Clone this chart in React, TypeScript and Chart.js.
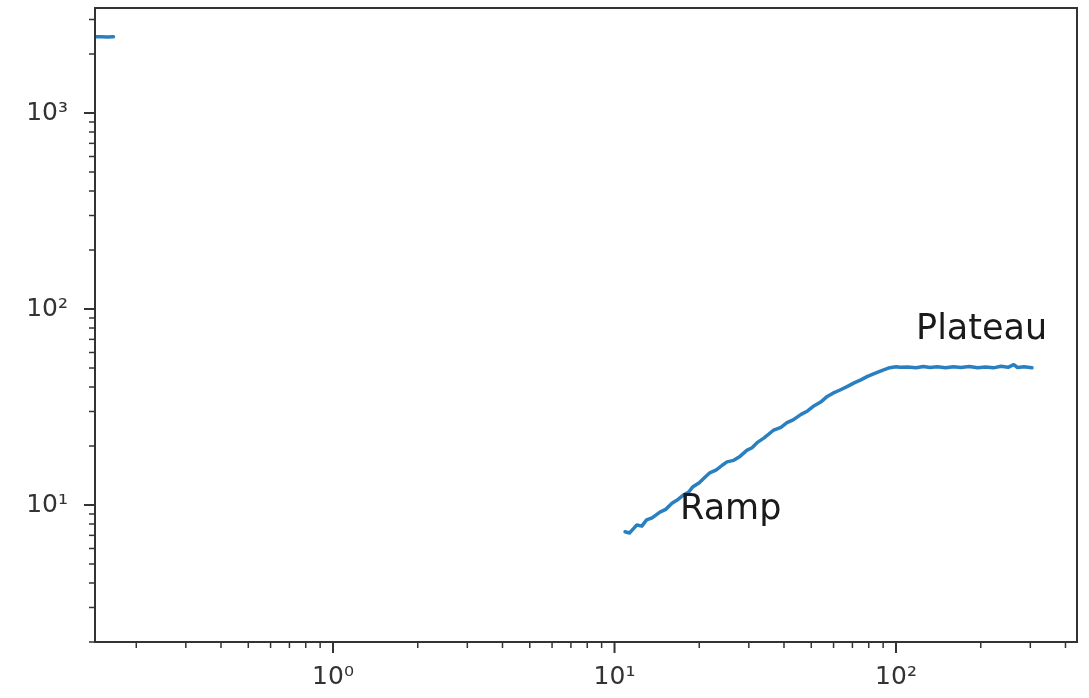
import React, { useEffect, useRef } from 'react';
import { Chart, registerables } from 'chart.js';

Chart.register(...registerables);

// ---- data ----
const headX = [0.1427, 0.150, 0.158, 0.166];
const headY = [2450, 2452, 2446, 2450];

const rampX = [10.9, 11.3, 11.7, 12.0, 12.5, 13.0, 13.6, 14.5, 15.2, 16.0, 16.7, 17.5, 18.3, 19.0, 20.0, 21.0, 21.8, 23.0, 24.2, 25.1, 26.5, 27.9, 29.5, 30.8, 32.1, 34.0, 36.6, 39.0, 41.0, 43.1, 46.0, 48.5, 50.7, 54.0, 57.0, 59.7, 63.0, 67.0, 71.0, 75.0, 78.9, 84.0, 89.9, 95.0, 100.0, 103.3];
const rampY = [7.3, 7.2, 7.6, 7.9, 7.8, 8.4, 8.6, 9.2, 9.5, 10.2, 10.6, 11.2, 11.6, 12.4, 13.0, 13.9, 14.6, 15.1, 16.0, 16.6, 16.9, 17.7, 19.0, 19.6, 20.8, 22.0, 24.0, 24.9, 26.3, 27.2, 29.0, 30.2, 31.8, 33.5, 35.8, 37.2, 38.5, 40.2, 42.0, 43.5, 45.2, 47.0, 48.8, 50.2, 50.8, 50.4];

const plateauX = [110, 118, 125, 132, 140, 150, 160, 170, 182, 195, 208, 222, 236, 250, 262, 270, 285, 304];
const plateauY = [50.6, 50.2, 50.9, 50.3, 50.7, 50.1, 50.8, 50.3, 50.9, 50.2, 50.6, 50.1, 51.0, 50.4, 52.0, 50.3, 50.8, 50.2];

const xMajorTicks = [1, 10, 100];
const xTickLabels = ['10⁰', '10¹', '10²'];
const yMajorTicks = [10, 100, 1000];
const yTickLabels = ['10¹', '10²', '10³'];

const xRange = [0.1427, 439.5];
const yRange = [2.0, 3434];

const annotationTexts = ['Ramp', 'Plateau'];
const annotationX = [17.1, 117.8];
const annotationY = [8.48, 70.3];

// ---- helpers ----
function logTicks(min: number, max: number) {
  const out: number[] = [];
  for (let e = Math.floor(Math.log10(min)); e <= Math.ceil(Math.log10(max)); e++) {
    for (let k = 1; k <= 9; k++) {
      const v = parseFloat((k * Math.pow(10, e)).toPrecision(6));
      if (v >= min * 0.9999 && v <= max * 1.0001) out.push(v);
    }
  }
  return out;
}

function findLabel(v: number, majors: number[], labels: string[]) {
  for (let i = 0; i < majors.length; i++) {
    if (Math.abs(v - majors[i]) / majors[i] < 1e-6) return labels[i];
  }
  return '';
}

const toPts = (xs: number[], ys: number[]) => xs.map((x, i) => ({ x, y: ys[i] }));

const LINE = '#2a7fc0';
const AXIS = '#333333';

const framePlugin = {
  id: 'framePlugin',
  afterDraw(chart: any) {
    const { ctx, chartArea: a, scales } = chart;
    ctx.save();
    ctx.strokeStyle = AXIS;
    for (const t of scales.x.ticks) {
      const px = scales.x.getPixelForValue(t.value);
      const major = findLabel(t.value, xMajorTicks, xTickLabels) !== '';
      ctx.lineWidth = major ? 2 : 1.5;
      ctx.beginPath();
      ctx.moveTo(px, a.bottom);
      ctx.lineTo(px, a.bottom + (major ? 11 : 6));
      ctx.stroke();
    }
    for (const t of scales.y.ticks) {
      const py = scales.y.getPixelForValue(t.value);
      const major = findLabel(t.value, yMajorTicks, yTickLabels) !== '';
      ctx.lineWidth = major ? 2 : 1.5;
      ctx.beginPath();
      ctx.moveTo(a.left, py);
      ctx.lineTo(a.left - (major ? 11 : 6), py);
      ctx.stroke();
    }
    ctx.lineWidth = 2;
    ctx.strokeRect(a.left, a.top, a.right - a.left, a.bottom - a.top);

    ctx.font = '35px "DejaVu Sans"';
    ctx.fillStyle = '#1a1a1a';
    ctx.textAlign = 'left';
    ctx.textBaseline = 'alphabetic';
    annotationTexts.forEach((txt, i) => {
      ctx.fillText(txt, scales.x.getPixelForValue(annotationX[i]), scales.y.getPixelForValue(annotationY[i]));
    });
    ctx.restore();
  },
};

export default function App() {
  const ref = useRef<HTMLCanvasElement | null>(null);

  useEffect(() => {
    if (!ref.current) return;
    const ds = (data: any[]) => ({
      data,
      borderColor: LINE,
      backgroundColor: LINE,
      borderWidth: 3.5,
      pointRadius: 0,
      tension: 0,
      fill: false,
      borderJoinStyle: 'round' as const,
      borderCapStyle: 'round' as const,
    });
    const chart = new Chart(ref.current, {
      type: 'line',
      data: {
        datasets: [
          ds(toPts(headX, headY)),
          ds(toPts(rampX.concat(plateauX), rampY.concat(plateauY))),
        ],
      },
      options: {
        animation: false,
        responsive: false,
        layout: { padding: { top: 8, right: 12, left: 0, bottom: 0 } },
        plugins: { legend: { display: false }, tooltip: { enabled: false }, title: { display: false } },
        scales: {
          x: {
            type: 'logarithmic',
            min: xRange[0],
            max: xRange[1],
            grid: { display: false, drawTicks: false },
            border: { display: false },
            afterBuildTicks: (s: any) => {
              s.ticks = logTicks(xRange[0], xRange[1]).map((v) => ({ value: v }));
            },
            afterFit: (s: any) => {
              s.height = 56;
              s.paddingLeft = 0;
              s.paddingRight = 0;
              s.paddingTop = 0;
              s.paddingBottom = 0;
            },
            ticks: {
              autoSkip: false,
              maxRotation: 0,
              minRotation: 0,
              padding: 20,
              color: AXIS,
              font: { family: 'DejaVu Sans', size: 25 },
              callback: (v: any) => findLabel(Number(v), xMajorTicks, xTickLabels),
            },
          },
          y: {
            type: 'logarithmic',
            min: yRange[0],
            max: yRange[1],
            grid: { display: false, drawTicks: false },
            border: { display: false },
            afterBuildTicks: (s: any) => {
              s.ticks = logTicks(yRange[0], yRange[1]).map((v) => ({ value: v }));
            },
            afterFit: (s: any) => {
              s.width = 95;
              s.paddingLeft = 0;
              s.paddingRight = 0;
              s.paddingTop = 0;
              s.paddingBottom = 0;
            },
            ticks: {
              autoSkip: false,
              padding: 27,
              color: AXIS,
              font: { family: 'DejaVu Sans', size: 25 },
              callback: (v: any) => findLabel(Number(v), yMajorTicks, yTickLabels),
            },
          },
        },
      },
      plugins: [framePlugin],
    });
    return () => chart.destroy();
  }, []);

  return (
    <div style={{ position: 'fixed', left: 0, top: 0, width: 1089, height: 698, background: '#fff' }}>
      <canvas ref={ref} width={1089} height={698} style={{ display: 'block' }} />
    </div>
  );
}
